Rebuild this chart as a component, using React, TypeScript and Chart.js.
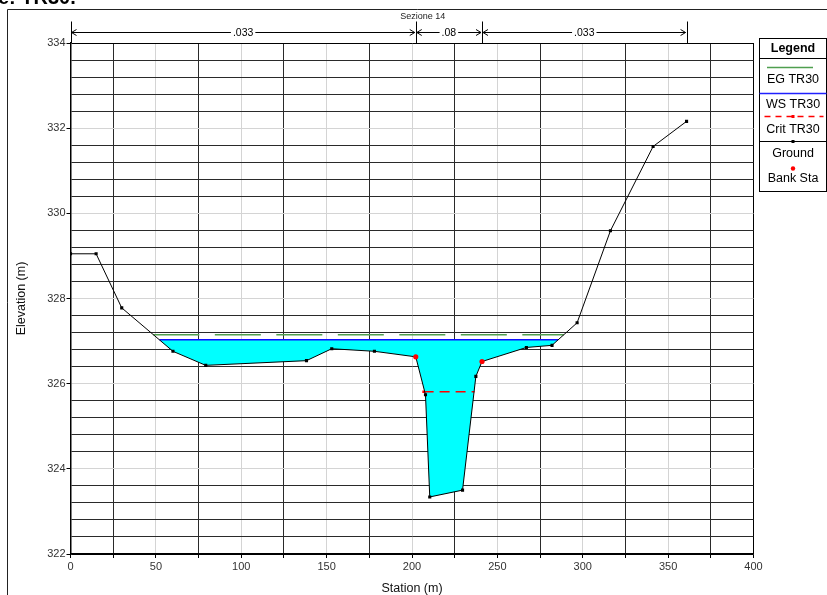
import React, { useEffect, useRef } from 'react';
import { Chart, registerables } from 'chart.js';

Chart.register(...registerables);

// ---- data ----
const groundStations = [0, 15, 30, 60, 79.2, 138.2, 153, 178, 202.2, 207.9, 210.4, 229.6, 237.4, 241, 267, 282, 296.7, 316.2, 341.2, 360.8];
const groundElevations = [329.05, 329.05, 327.78, 326.76, 326.43, 326.54, 326.82, 326.76, 326.63, 325.74, 323.34, 323.5, 326.17, 326.52, 326.85, 326.9, 327.43, 329.59, 331.57, 332.16];
const bankStations = [202.2, 241];
const bankElevations = [326.63, 326.52];
const wsStations = [52.1, 285.6];
const wsElevation = 327.03;
const egStations = [48.5, 288.9];
const egElevation = 327.15;
const critStations = [206.8, 236.6];
const critElevation = 325.81;
const nBreaks = [0, 202.2, 241, 360.8];
const nLabels = ['.033', '.08', '.033'];
const sectionLabel = 'Sezione 14';
const titleText = 'e: TR30.';
const legendItems = ['EG TR30', 'WS TR30', 'Crit TR30', 'Ground', 'Bank Sta'];
const xMin = 0, xMax = 400, xStep = 25, xLabelStep = 50;
const yMin = 322, yMax = 334, yStep = 0.4, yLabelStep = 2;

const FONT = '"Liberation Sans", Arial, sans-serif';
const isMult = (v: number, m: number) => Math.abs(v / m - Math.round(v / m)) < 1e-6;

const overlayPlugin = {
  id: 'overlay',
  afterDraw(chart: any) {
    const ctx = chart.ctx as CanvasRenderingContext2D;
    const xs = chart.scales.x;
    const ca = chart.chartArea;
    ctx.save();
    // outer frame
    ctx.strokeStyle = '#222';
    ctx.lineWidth = 1;
    ctx.beginPath();
    ctx.moveTo(7.5, 600);
    ctx.lineTo(7.5, 9.5);
    ctx.lineTo(830, 9.5);
    ctx.stroke();
    // clipped title
    ctx.fillStyle = '#000';
    ctx.font = `bold 20px ${FONT}`;
    ctx.textAlign = 'left';
    ctx.textBaseline = 'alphabetic';
    ctx.fillText(titleText, -2, 4);

    // Manning's n annotation
    const yLine = 32.5;
    const yTop = 21.5;
    ctx.strokeStyle = '#000';
    ctx.lineWidth = 1;
    nBreaks.forEach((s) => {
      const px = Math.round(xs.getPixelForValue(s)) + 0.5;
      ctx.beginPath();
      ctx.moveTo(px, yTop);
      ctx.lineTo(px, ca.top);
      ctx.stroke();
    });
    ctx.font = `10.5px ${FONT}`;
    ctx.textAlign = 'center';
    ctx.textBaseline = 'middle';
    ctx.fillStyle = '#000';
    for (let i = 0; i < nLabels.length; i++) {
      const x0 = xs.getPixelForValue(nBreaks[i]) + 1;
      const x1 = xs.getPixelForValue(nBreaks[i + 1]) - 1;
      const cx = (x0 + x1) / 2;
      const w = ctx.measureText(nLabels[i]).width;
      ctx.beginPath();
      ctx.moveTo(x0, yLine);
      ctx.lineTo(cx - w / 2 - 2, yLine);
      ctx.moveTo(cx + w / 2 + 2, yLine);
      ctx.lineTo(x1, yLine);
      // arrows
      ctx.moveTo(x0 + 5, yLine - 3);
      ctx.lineTo(x0, yLine);
      ctx.lineTo(x0 + 5, yLine + 3);
      ctx.moveTo(x1 - 5, yLine - 3);
      ctx.lineTo(x1, yLine);
      ctx.lineTo(x1 - 5, yLine + 3);
      ctx.stroke();
      ctx.fillText(nLabels[i], cx, yLine + 0.5);
    }
    ctx.font = `9px ${FONT}`;
    ctx.fillStyle = '#222';
    ctx.fillText(sectionLabel, xs.getPixelForValue(nBreaks[1]) + 7, 16.5);

    // legend box
    const L = 759.5, T = 38.5, R = 826.5, B = 191.5;
    ctx.fillStyle = '#fff';
    ctx.fillRect(L, T, R - L, B - T);
    ctx.strokeStyle = '#000';
    ctx.lineWidth = 1;
    ctx.strokeRect(L, T, R - L, B - T);
    ctx.beginPath();
    ctx.moveTo(L, 58.5);
    ctx.lineTo(R, 58.5);
    ctx.stroke();
    const cx = (L + R) / 2;
    ctx.fillStyle = '#000';
    ctx.font = `bold 12.5px ${FONT}`;
    ctx.textAlign = 'center';
    ctx.textBaseline = 'middle';
    ctx.fillText('Legend', cx, 49);
    ctx.font = `12.5px ${FONT}`;
    const textY = [80, 105, 130, 154, 179];
    legendItems.forEach((t, i) => ctx.fillText(t, cx, textY[i]));
    // EG
    ctx.strokeStyle = '#4f9f4f';
    ctx.lineWidth = 1.5;
    ctx.beginPath(); ctx.moveTo(767, 67.5); ctx.lineTo(813, 67.5); ctx.stroke();
    // WS
    ctx.strokeStyle = '#2020ff';
    ctx.beginPath(); ctx.moveTo(L, 93.5); ctx.lineTo(R, 93.5); ctx.stroke();
    // Crit
    ctx.strokeStyle = '#ff0000';
    ctx.setLineDash([6, 5]);
    ctx.beginPath(); ctx.moveTo(L + 5, 116.5); ctx.lineTo(R - 3, 116.5); ctx.stroke();
    ctx.setLineDash([]);
    ctx.fillStyle = '#ff0000';
    ctx.fillRect(cx - 1.5, 115, 3, 3);
    // Ground
    ctx.strokeStyle = '#000';
    ctx.lineWidth = 1;
    ctx.beginPath(); ctx.moveTo(L, 141.5); ctx.lineTo(R, 141.5); ctx.stroke();
    ctx.fillStyle = '#000';
    ctx.fillRect(cx - 1.5, 140, 3, 3);
    // Bank
    ctx.fillStyle = '#ff0000';
    ctx.beginPath(); ctx.arc(cx, 168.5, 2.2, 0, Math.PI * 2); ctx.fill();
    ctx.restore();
  },
};

export default function App() {
  const ref = useRef<HTMLCanvasElement | null>(null);
  useEffect(() => {
    if (!ref.current) return;
    const ground = groundStations.map((x, i) => ({ x, y: groundElevations[i] }));
    const bank = bankStations.map((x, i) => ({ x, y: bankElevations[i] }));
    const ws = wsStations.map((x) => ({ x, y: wsElevation }));
    const eg = egStations.map((x) => ({ x, y: egElevation }));
    const crit = critStations.map((x) => ({ x, y: critElevation }));
    const chart = new Chart(ref.current, {
      type: 'line',
      data: {
        datasets: [
          {
            label: 'Bank Sta', data: bank, showLine: false, pointRadius: 2.6,
            pointBackgroundColor: '#ff0000', pointBorderColor: '#ff0000', pointBorderWidth: 0,
          },
          {
            label: 'Ground', data: ground, borderColor: '#000', borderWidth: 1, pointStyle: 'rect',
            pointRadius: 2.2, pointBackgroundColor: '#000', pointBorderColor: '#000', pointBorderWidth: 0,
            tension: 0, fill: false,
          },
          {
            label: 'Crit TR30', data: crit, borderColor: '#ff0000', borderWidth: 1.5, borderDash: [10, 6],
            pointRadius: [1.8, 0], pointStyle: 'rect', pointBackgroundColor: '#ff0000', pointBorderWidth: 0, fill: false,
          },
          {
            label: 'WS TR30', data: ws, borderColor: '#1010ff', borderWidth: 1.6, pointRadius: 0,
            fill: { target: 1 }, backgroundColor: '#00ffff',
          },
          {
            label: 'EG TR30', data: eg, borderColor: '#4f9f4f', borderWidth: 1.6, borderDash: [46, 15.5],
            pointRadius: 0, fill: false,
          },
        ],
      },
      options: {
        responsive: false,
        animation: false,
        events: [],
        parsing: false as any,
        layout: { padding: { left: 0, top: 43, right: 73.5, bottom: 0 } },
        plugins: {
          legend: { display: false },
          tooltip: { enabled: false },
          filler: { drawTime: 'beforeDatasetsDraw', propagate: false },
        },
        scales: {
          x: {
            type: 'linear', min: xMin, max: xMax,
            afterFit: (s: any) => { s.height = 41; },
            ticks: {
              stepSize: xStep, autoSkip: false, maxRotation: 0, padding: 2, color: '#333',
              font: { family: FONT, size: 11 },
              callback: (v: any) => (isMult(Number(v), xLabelStep) ? String(v) : ''),
            },
            grid: {
              tickLength: 4,
              tickColor: '#000',
              color: (c: any) => {
                const v = c.tick ? c.tick.value : 0;
                if (v === xMin || v === xMax) return '#000';
                return isMult(v, xLabelStep) ? '#d4d4d4' : '#2a2a2a';
              },
            },
            border: { color: '#000', width: 1.5 },
            title: { display: true, text: 'Station (m)', color: '#111', font: { family: FONT, size: 12.5 }, padding: { top: 0, bottom: -1.5 } },
          },
          y: {
            type: 'linear', min: yMin, max: yMax,
            afterFit: (s: any) => { s.width = 70.5; },
            ticks: {
              stepSize: yStep, autoSkip: false, maxTicksLimit: 100, padding: 1, color: '#333',
              font: { family: FONT, size: 11 },
              callback: (v: any) => (isMult(Number(v), yLabelStep) ? String(Math.round(Number(v))) : ''),
            },
            grid: {
              tickLength: 4,
              tickColor: (c: any) => (c.tick && isMult(c.tick.value, yLabelStep) ? '#000' : 'rgba(0,0,0,0)'),
              color: (c: any) => {
                const v = c.tick ? c.tick.value : 0;
                if (Math.abs(v - yMin) < 1e-6 || Math.abs(v - yMax) < 1e-6) return '#000';
                return isMult(v, yLabelStep) ? '#d4d4d4' : '#2a2a2a';
              },
            },
            border: { color: '#000', width: 1.5 },
            title: { display: true, text: 'Elevation (m)', color: '#111', font: { family: FONT, size: 12.5 }, padding: { top: 14.5, bottom: 0 } },
          },
        },
      },
      plugins: [overlayPlugin],
    });
    return () => chart.destroy();
  }, []);
  return (
    <div style={{ position: 'absolute', left: 0, top: 0, width: 827, height: 595, background: '#fff' }}>
      <canvas ref={ref} width={827} height={595} style={{ width: 827, height: 595, display: 'block' }} />
    </div>
  );
}
